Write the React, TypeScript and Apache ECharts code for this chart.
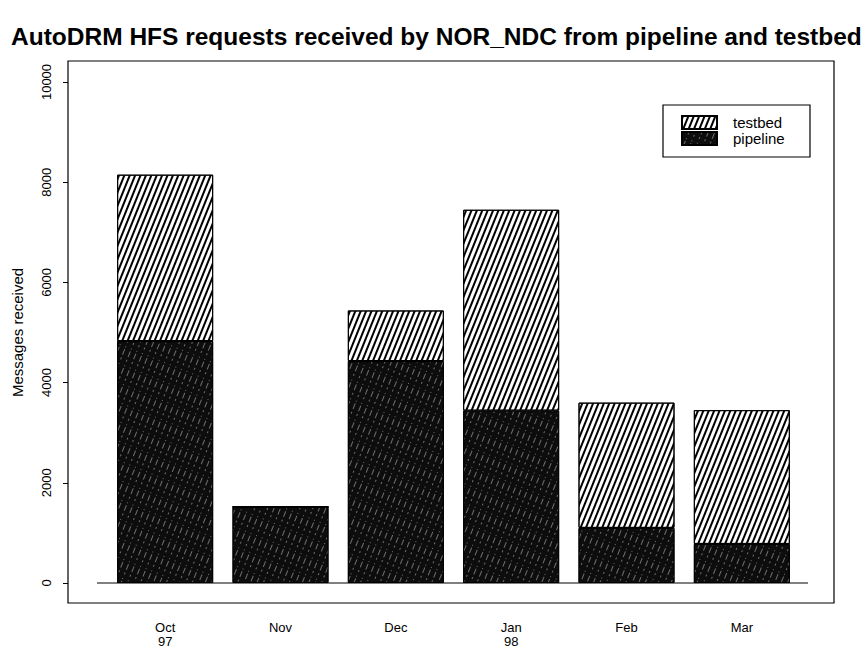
import React, { useEffect, useRef } from "react";
import * as echarts from "echarts";

const categories = ["Oct\n97", "Nov", "Dec", "Jan\n98", "Feb", "Mar"];
const pipeline = [4830, 1520, 4430, 3440, 1100, 780];
const testbed = [3320, 0, 1010, 4010, 2500, 2670];
const yMin = 0;
const yMax = 10000;
const yInterval = 2000;

const FONT = "'Liberation Sans', Arial, Helvetica, sans-serif";

export default function App() {
  const ref = useRef<HTMLDivElement>(null);
  useEffect(() => {
    if (!ref.current) return;
    const chart = echarts.init(ref.current, null, { renderer: "svg" });
    const option = {
      animation: false,
      backgroundColor: "#ffffff",
      textStyle: { fontFamily: FONT, color: "#000" },
      title: {
        text: "AutoDRM HFS requests received by NOR_NDC from pipeline and testbed",
        left: 11,
        top: 24,
        padding: 0,
        textStyle: { fontFamily: FONT, fontSize: 24.5, fontWeight: "bold", color: "#000" },
      },
      legend: {
        left: 681,
        top: 115,
        orient: "vertical",
        padding: 0,
        itemGap: 1,
        itemWidth: 35,
        itemHeight: 13,
        icon: "rect",
        data: ["testbed", "pipeline"],
        textStyle: { fontFamily: FONT, fontSize: 15, color: "#000", padding: [0, 0, 0, 11] },
      },
      grid: { left: 107.5, right: 67.5, top: 82, bottom: 69, containLabel: false },
      xAxis: {
        type: "category",
        data: categories,
        axisLine: { show: false },
        axisTick: { show: false },
        axisLabel: { margin: 37, fontSize: 13, lineHeight: 14, color: "#000", fontFamily: FONT },
      },
      yAxis: {
        type: "value",
        min: yMin,
        max: yMax,
        interval: yInterval,
        offset: 39.5,
        name: "Messages received",
        nameLocation: "middle",
        nameGap: 43,
        nameRotate: 90,
        nameTextStyle: { fontSize: 15, color: "#000", fontFamily: FONT },
        axisLine: { show: false },
        axisTick: { show: true, length: 5, lineStyle: { color: "#000", width: 1 } },
        axisLabel: {
          rotate: 90,
          margin: 15,
          fontSize: 13,
          color: "#000",
          fontFamily: FONT,
          formatter: (v: number) => String(v),
        },
        splitLine: { show: false },
      },
      graphic: [
        {
          type: "rect",
          shape: { x: 68, y: 61, width: 766, height: 542 },
          style: { fill: "none", stroke: "#000", lineWidth: 1.2 },
          z: 0,
        },
        {
          type: "line",
          shape: { x1: 97, y1: 583, x2: 808, y2: 583 },
          style: { stroke: "#000", lineWidth: 1 },
          z: 0,
        },
        {
          type: "rect",
          shape: { x: 663, y: 105, width: 147, height: 52 },
          style: { fill: "none", stroke: "#000", lineWidth: 1.2 },
          z: 0,
        },
      ],
      series: [
        {
          name: "pipeline",
          type: "bar",
          stack: "total",
          barWidth: 96,
          data: pipeline,
          itemStyle: {
            color: "#0d0d0d",
            borderColor: "#000",
            borderWidth: 1,
            decal: {
              symbol: "rect",
              symbolSize: 1,
              color: "rgba(210,210,210,0.5)",
              dashArrayX: [[2, 3, 6, 2, 1, 4]],
              dashArrayY: [1, 5],
              rotation: (-68 * Math.PI) / 180,
            },
          },
        },
        {
          name: "testbed",
          type: "bar",
          stack: "total",
          barWidth: 96,
          data: testbed,
          itemStyle: {
            color: "#ffffff",
            borderColor: "#000",
            borderWidth: 1,
            decal: {
              symbol: "rect",
              symbolSize: 1,
              color: "#000000",
              dashArrayX: [[1, 0]],
              dashArrayY: [2, 2.5],
              rotation: (-68 * Math.PI) / 180,
            },
          },
        },
      ],
    };
    chart.setOption(option as any);
    return () => chart.dispose();
  }, []);
  return (
    <div
      ref={ref}
      style={{ position: "fixed", left: 0, top: 0, width: 867, height: 652, background: "#fff" }}
    />
  );
}
